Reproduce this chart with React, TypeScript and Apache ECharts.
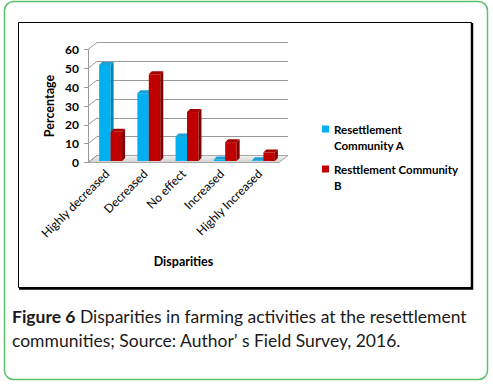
import React, { useEffect, useRef } from "react";
import * as echarts from "echarts";

const categories = ["Highly decreased", "Decreased", "No effect", "Increased", "Highly Increased"];
const communityA = [51, 36, 13, 0.8, 0.4];
const communityB = [15.5, 46, 26, 10, 4.5];
const seriesNames = ["Resettlement Community A", "Resttlement Community B"];
const legendLabels = ["Resettlement\nCommunity A", "Resttlement Community\nB"];
const yTicks = [0, 10, 20, 30, 40, 50, 60];
const captionBold = "Figure 6";
const captionRest = " Disparities in farming activities at the resettlement\ncommunities; Source: Author\u2019 s Field Survey, 2016.";

const FONT = "Lato, 'Open Sans', sans-serif";
const WALL_DX = 9;
const WALL_DY = -7;
const BAR_SHIFT_X = 3.5;
const BAR_SHIFT_Y = -1.5;
const BAR_DX = 3;
const BAR_DY = -3;

const palette = [
  { front: "#00B0F0", side: "#0085B8", top: "#1A9FD6" },
  { front: "#C00000", side: "#850000", top: "#A30000" },
];

function makeBarRenderer(idx: number) {
  return (params: any, api: any) => {
    const cat = api.value(0);
    const v = api.value(1);
    const base = api.coord([cat, 0]);
    const top = api.coord([cat, v]);
    const band = api.size([1, 0])[0];
    const bw = band * 0.3;
    const x0 = base[0] + BAR_SHIFT_X + (idx === 0 ? -bw : 0);
    const x1 = x0 + bw;
    const yb = base[1] + BAR_SHIFT_Y;
    const yt = top[1] + BAR_SHIFT_Y;
    const c = palette[idx];
    return {
      type: "group",
      children: [
        { type: "rect", shape: { x: x0, y: yt, width: bw, height: yb - yt }, style: { fill: c.front } },
        {
          type: "polygon",
          shape: { points: [[x1, yt], [x1 + BAR_DX, yt + BAR_DY], [x1 + BAR_DX, yb + BAR_DY], [x1, yb]] },
          style: { fill: c.side },
        },
        {
          type: "polygon",
          shape: { points: [[x0, yt], [x0 + BAR_DX, yt + BAR_DY], [x1 + BAR_DX, yt + BAR_DY], [x1, yt]] },
          style: { fill: c.top },
        },
      ],
    };
  };
}

function renderWall(params: any, api: any) {
  const t = api.value(0);
  const p = api.coord([0, t]);
  const cs = params.coordSys;
  const x = cs.x;
  const children: any[] = [
    {
      type: "line",
      shape: { x1: x, y1: p[1], x2: x + WALL_DX, y2: p[1] + WALL_DY },
      style: { stroke: "#9a9a9a", lineWidth: 1 },
    },
  ];
  if (t === 0) {
    const yb = cs.y + cs.height;
    children.unshift({
      type: "polygon",
      shape: {
        points: [[x, yb], [x + cs.width, yb], [x + cs.width + WALL_DX, yb + WALL_DY], [x + WALL_DX, yb + WALL_DY]],
      },
      style: {
        fill: new echarts.graphic.LinearGradient(0, 0, 0, 1, [
          { offset: 0, color: "#f4f4f4" },
          { offset: 1, color: "#cfcfcf" },
        ]),
        stroke: "#a6a6a6",
        lineWidth: 1,
      },
    });
  }
  return { type: "group", children };
}

export default function App() {
  const ref = useRef<HTMLDivElement>(null);
  useEffect(() => {
    if (!ref.current) return;
    const chart = echarts.init(ref.current, null, { renderer: "svg" });
    const frontLeft = 88;
    const frontTop = 49.5;
    const plotW = 191;
    const plotH = 113;
    chart.setOption({
      animation: false,
      backgroundColor: "#ffffff",
      textStyle: { fontFamily: FONT },
      grid: [
        { left: frontLeft, top: frontTop, width: plotW, height: plotH },
        { left: frontLeft + WALL_DX, top: frontTop + WALL_DY, width: plotW, height: plotH },
      ],
      xAxis: [
        {
          type: "category",
          gridIndex: 0,
          data: categories,
          axisLine: { show: false },
          axisTick: { show: false },
          axisLabel: {
            rotate: 45,
            interval: 0,
            margin: 9,
            fontSize: 12,
            color: "#000",
            fontFamily: FONT,
          },
          name: "Disparities",
          nameLocation: "middle",
          nameGap: 92,
          nameTextStyle: { fontSize: 12.5, fontWeight: "bold", color: "#000", fontFamily: FONT },
        },
        { type: "category", gridIndex: 1, data: categories, show: false },
      ],
      yAxis: [
        {
          type: "value",
          gridIndex: 0,
          min: 0,
          max: 60,
          interval: 10,
          axisLine: { show: true, lineStyle: { color: "#9a9a9a" } },
          axisTick: { show: true, length: 4, lineStyle: { color: "#9a9a9a" } },
          splitLine: { show: false },
          axisLabel: { margin: 9, fontSize: 12, fontWeight: "bold", color: "#000", fontFamily: FONT },
          name: "Percentage",
          nameLocation: "middle",
          nameRotate: 90,
          nameGap: 32,
          nameTextStyle: { fontSize: 12.5, fontWeight: "bold", color: "#000", fontFamily: FONT },
        },
        {
          type: "value",
          gridIndex: 1,
          min: 0,
          max: 60,
          interval: 10,
          axisLine: { show: false },
          axisTick: { show: false },
          axisLabel: { show: false },
          splitLine: { show: true, lineStyle: { color: "#9a9a9a", width: 1 } },
        },
      ],
      legend: {
        orient: "vertical",
        left: 317,
        top: 100,
        itemWidth: 7,
        itemHeight: 7,
        itemGap: -8,
        icon: "rect",
        data: seriesNames,
        formatter: (name: string) => " \n" + legendLabels[seriesNames.indexOf(name)],
        textStyle: {
          fontSize: 11.5,
          fontWeight: "bold",
          color: "#000",
          fontFamily: FONT,
          lineHeight: 16,
        },
      },
      series: [
        {
          type: "custom",
          name: "wall",
          xAxisIndex: 0,
          yAxisIndex: 0,
          z: 1,
          silent: true,
          renderItem: renderWall,
          encode: { y: 0 },
          data: yTicks.map((t) => [t]),
        },
        {
          type: "custom",
          name: seriesNames[0],
          xAxisIndex: 0,
          yAxisIndex: 0,
          z: 3,
          itemStyle: { color: palette[0].front },
          renderItem: makeBarRenderer(0),
          encode: { x: 0, y: 1 },
          data: communityA.map((v, i) => [i, v]),
        },
        {
          type: "custom",
          name: seriesNames[1],
          xAxisIndex: 0,
          yAxisIndex: 0,
          z: 3,
          itemStyle: { color: palette[1].front },
          renderItem: makeBarRenderer(1),
          encode: { x: 0, y: 1 },
          data: communityB.map((v, i) => [i, v]),
        },
      ],
      graphic: [
        {
          type: "rect",
          z: -10,
          shape: { x: 4.5, y: 1.5, width: 483, height: 378, r: 9 },
          style: { fill: "#fff", stroke: "#5cbf6a", lineWidth: 1.5 },
        },
        {
          type: "rect",
          z: -9,
          shape: { x: 18.5, y: 22.5, width: 453, height: 265 },
          style: { fill: "#fff", stroke: "#000", lineWidth: 1 },
        },
        {
          type: "polyline",
          z: -8,
          shape: { points: [[472, 23], [472, 288.5], [19, 288.5]] },
          style: { stroke: "#000", lineWidth: 2.5, fill: null },
        },
        {
          type: "text",
          left: 12,
          top: 304,
          style: {
            text: "{b|" + captionBold + "}" + captionRest,
            rich: {
              b: { fontWeight: "bold", fontSize: 17.5, fontFamily: FONT, fill: "#1a1a1a", lineHeight: 24 },
            },
            fontSize: 17.5,
            lineHeight: 24,
            fontFamily: FONT,
            fill: "#1a1a1a",
          },
        },
      ],
    });
    return () => chart.dispose();
  }, []);
  return (
    <div
      ref={ref}
      style={{ position: "fixed", left: 0, top: 0, width: 493, height: 384 }}
    />
  );
}
